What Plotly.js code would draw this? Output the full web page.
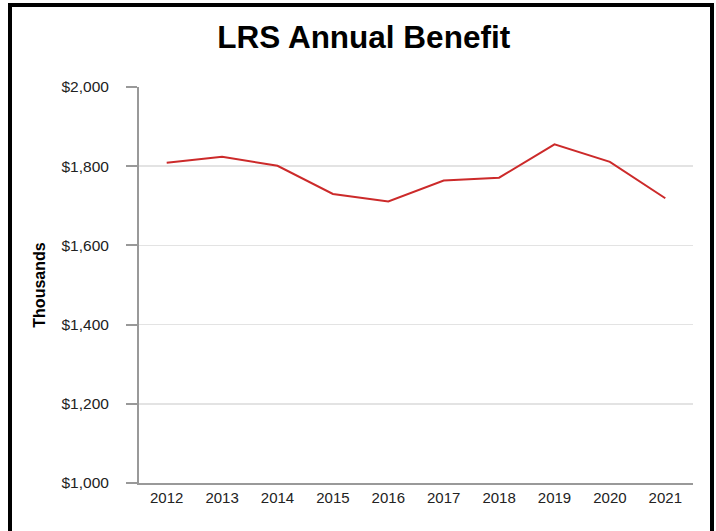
<!DOCTYPE html>
<html>
<head>
<meta charset="utf-8">
<script src="https://cdn.plot.ly/plotly-3.0.1.min.js"></script>
<style>
  html, body { margin: 0; padding: 0; background: #fff; overflow: hidden; }
  #wrap { position: relative; width: 716px; height: 531px; }
  #chart { position: absolute; left: 0; top: 0; width: 716px; height: 531px; }
  #frame { position: absolute; left: 8px; top: 3px; width: 698px; height: 600px;
           border: 4px solid #000; pointer-events: none; box-sizing: content-box; }
</style>
</head>
<body>
<div id="wrap">
  <div id="chart"></div>
  <div id="frame"></div>
</div>
<script>
const years = ["2012", "2013", "2014", "2015", "2016", "2017", "2018", "2019", "2020", "2021"];
const benefit = [1809, 1824, 1801, 1730, 1711, 1764, 1771, 1855, 1811, 1719];
const yTickVals = [1000, 1200, 1400, 1600, 1800, 2000];
const yTickText = ["$1,000", "$1,200", "$1,400", "$1,600", "$1,800", "$2,000"];

const trace = {
  x: years,
  y: benefit,
  type: "scatter",
  mode: "lines",
  line: { color: "#cc2a2a", width: 2 },
  hoverinfo: "x+y"
};

const layout = {
  width: 716,
  height: 531,
  margin: { l: 139, r: 23, t: 87, b: 48 },
  paper_bgcolor: "#ffffff",
  plot_bgcolor: "#ffffff",
  showlegend: false,
  font: { family: "Liberation Sans, Arial, sans-serif", color: "#222222", size: 15 },
  title: {
    text: "LRS Annual Benefit",
    font: { family: "Liberation Sans, Arial, sans-serif", size: 31.5, color: "#000000", weight: "bold" },
    xref: "container", yref: "container",
    x: 0.508, xanchor: "center",
    y: 1 - 37 / 531, yanchor: "middle"
  },
  xaxis: {
    type: "category",
    range: [-0.5, 9.5],
    showgrid: false,
    showline: true,
    linecolor: "#999999",
    linewidth: 2,
    ticks: "",
    tickfont: { size: 15, color: "#222222" },
    fixedrange: true,
    zeroline: false
  },
  yaxis: {
    range: [1000, 2000],
    tickvals: yTickVals,
    ticktext: yTickText,
    showgrid: true,
    gridcolor: "#e3e3e3",
    gridwidth: 1.5,
    showline: true,
    linecolor: "#999999",
    linewidth: 2,
    ticks: "outside",
    ticklen: 11,
    tickwidth: 2,
    tickcolor: "#999999",
    ticklabelstandoff: 14,
    tickfont: { size: 15.5, color: "#222222" },
    zeroline: false,
    fixedrange: true,
    automargin: false,
    title: {
      text: "Thousands",
      font: { size: 16, color: "#000000", weight: "bold" },
      standoff: 12
    }
  }
};

Plotly.newPlot("chart", [trace], layout, { displayModeBar: false, staticPlot: true });
</script>
</body>
</html>
